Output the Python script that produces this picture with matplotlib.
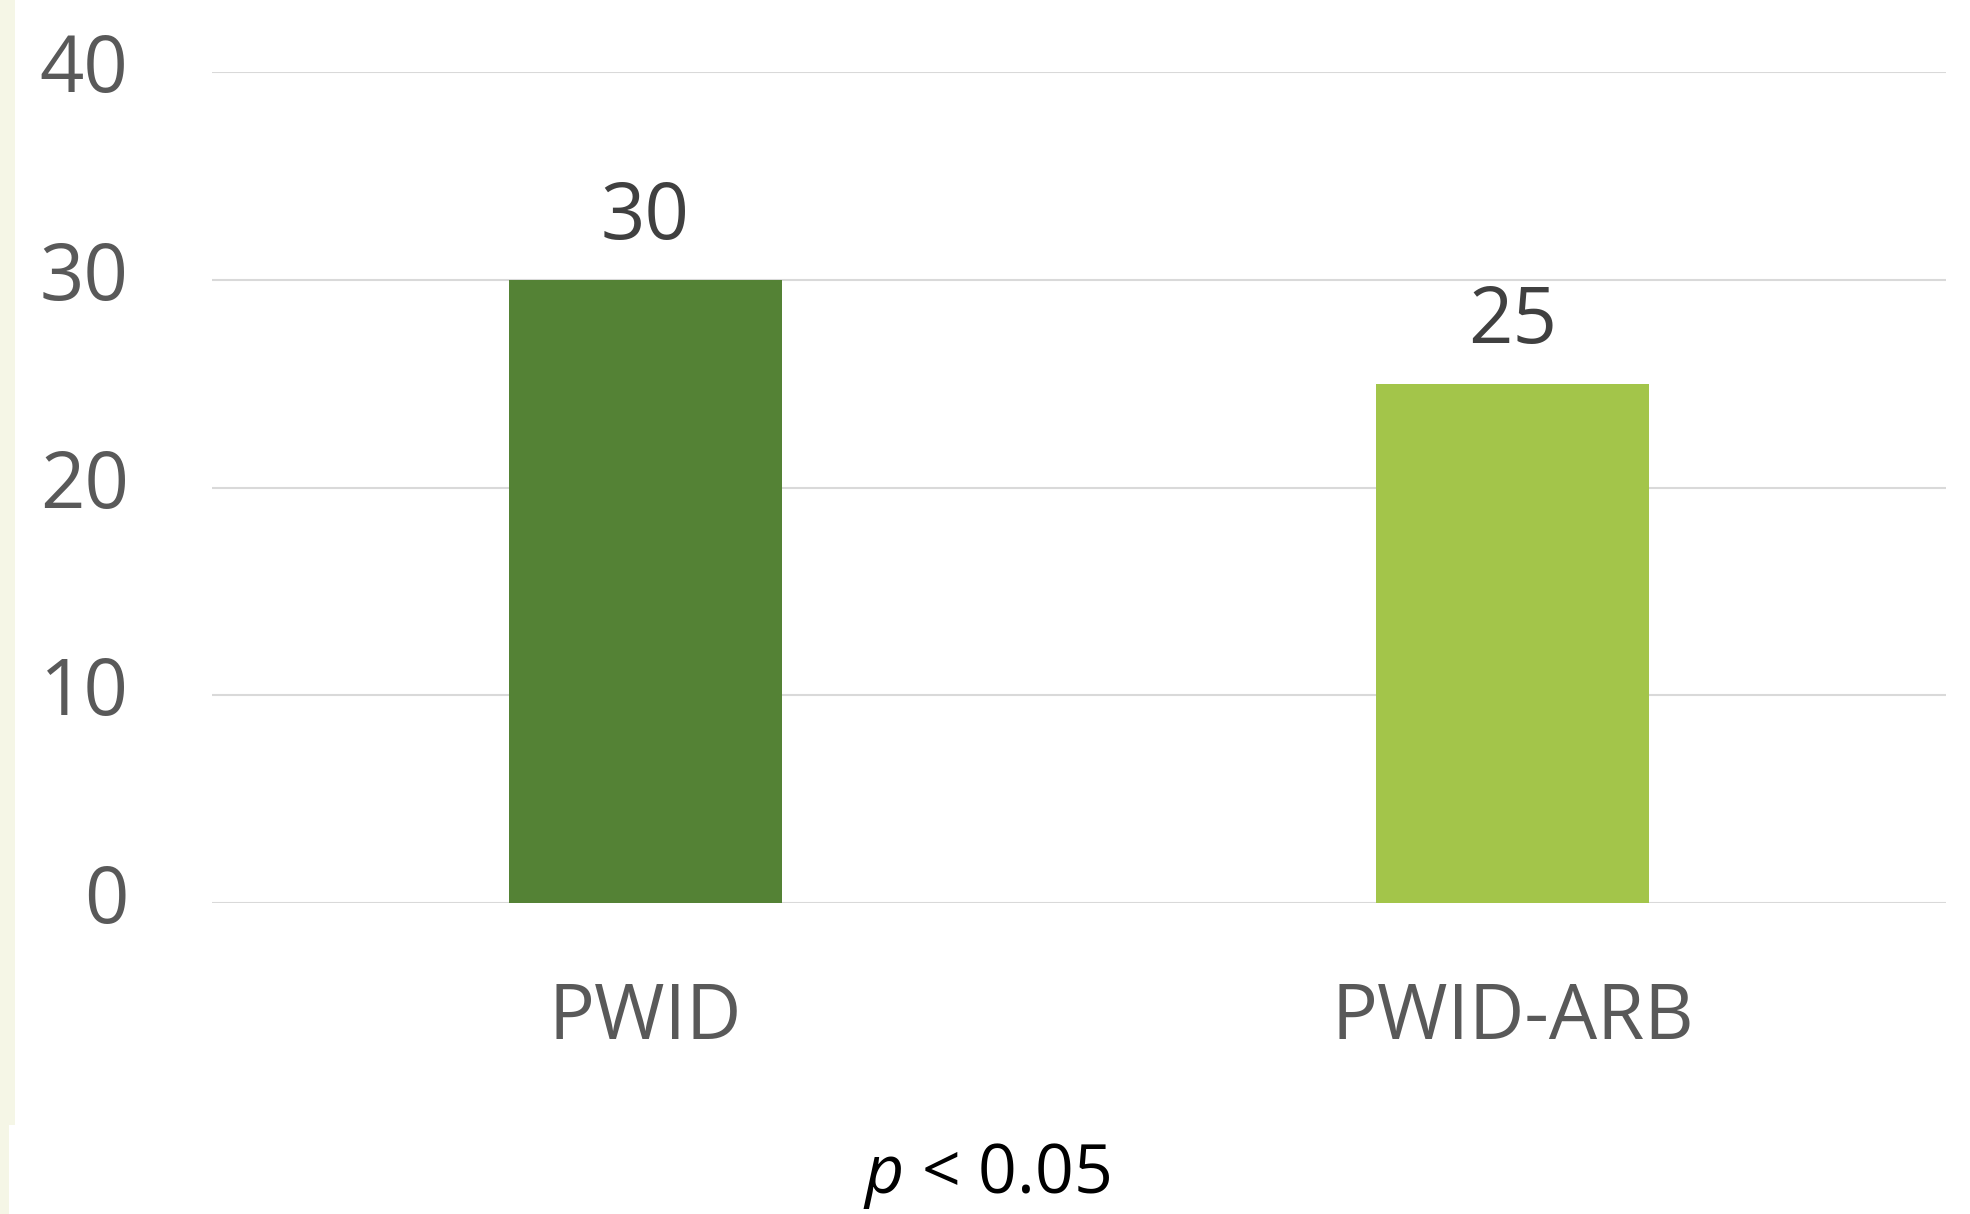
import matplotlib
matplotlib.use("Agg")
import matplotlib.pyplot as plt
from matplotlib.patches import Rectangle
from matplotlib.transforms import ScaledTranslation

categories = ["PWID", "PWID-ARB"]
values = [30, 25]
colors = ["#548235", "#A3C54A"]
yticks = [0, 10, 20, 30, 40]
note = "< 0.05"

plt.rcParams['font.family'] = ['Open Sans', 'DejaVu Sans']
plt.rcParams['mathtext.fontset'] = 'custom'
plt.rcParams['mathtext.it'] = 'Open Sans:italic'
plt.rcParams['mathtext.rm'] = 'Open Sans'

W, H, DPI = 1970, 1214, 100
fig = plt.figure(figsize=(W / DPI, H / DPI), dpi=DPI, facecolor='white')

# decorative left strip
fig.patches.append(Rectangle((0, 1 - 1125 / H), 15 / W, 1125 / H, transform=fig.transFigure,
                             facecolor='#F5F6E6', edgecolor='none', zorder=0))
fig.patches.append(Rectangle((0, 0), 9 / W, 1 - 1125 / H + 0.001, transform=fig.transFigure,
                             facecolor='#F5F6E6', edgecolor='none', zorder=0))

ax = fig.add_axes([212 / W, 1 - 903 / H, 1734 / W, (903 - 72) / H])
x = list(range(len(categories)))
bars = ax.bar(x, values, width=0.314, color=colors, zorder=3)
ax.set_xlim(-0.5, len(categories) - 0.5)
ax.set_ylim(0, 40)
ax.set_yticks(yticks)
ax.set_yticklabels([str(t) for t in yticks])
ax.set_xticks(x)
ax.set_xticklabels(categories)
ax.grid(axis='y', color='#D9D9D9', linewidth=1.5, zorder=0)
ax.set_axisbelow(True)
for s in ax.spines.values():
    s.set_visible(False)
ax.tick_params(axis='y', length=0, pad=60, labelsize=56, labelcolor='#595959')
ax.tick_params(axis='x', length=0, pad=56, labelsize=55, labelcolor='#595959')

off = ScaledTranslation(0, 10 / DPI, fig.dpi_scale_trans)
for lab in ax.get_yticklabels():
    lab.set_transform(lab.get_transform() + off)

for xi, v in zip(x, values):
    ax.annotate(str(v), xy=(xi, v), xytext=(0, 29.5), textcoords='offset points',
                ha='center', va='baseline', fontsize=56, color='#404040')

fig.text(987 / W, 1 - 1193 / H, r'$p$ ' + note, ha='center', va='baseline',
         fontsize=49, color='black')

fig.savefig('out.png', dpi=DPI, facecolor='white')
